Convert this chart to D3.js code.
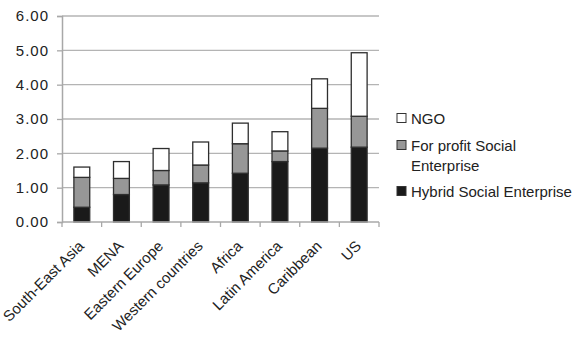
<!DOCTYPE html>
<html>
<head>
<meta charset="utf-8">
<script src="https://cdn.jsdelivr.net/npm/d3@7"></script>
<style>
  html, body { margin: 0; padding: 0; background: #fff; }
  svg text { font-family: "Liberation Sans", Arial, sans-serif; fill: #222; }
</style>
</head>
<body>
<svg id="chart" width="573" height="339"></svg>
<script>
// Regions and their stacked values by organisation type
const regions = ["South-East Asia", "MENA", "Eastern Europe", "Western countries", "Africa", "Latin America", "Caribbean", "US"];
const hybrid = [0.43, 0.80, 1.08, 1.14, 1.42, 1.76, 2.15, 2.18];
const forProfit = [0.87, 0.47, 0.42, 0.52, 0.86, 0.31, 1.16, 0.90];
const ngo = [0.30, 0.49, 0.64, 0.67, 0.60, 0.56, 0.86, 1.85];
const yTicks = [0, 1, 2, 3, 4, 5, 6];

const seriesNames = ["Hybrid Social Enterprise", "For profit Social Enterprise", "NGO"];
const seriesValues = [hybrid, forProfit, ngo];
const seriesColors = ["#1a1a1a", "#979797", "#ffffff"];

const svg = d3.select("#chart");
const margin = { left: 62, right: 194, top: 16, bottom: 117 };
const W = 573, H = 339;

const x = d3.scaleBand().domain(regions).range([margin.left, W - margin.right]).paddingInner(0.6).paddingOuter(0.3);
const xb = d3.scaleBand().domain(regions).range([margin.left, W - margin.right]);
const y = d3.scaleLinear().domain([0, 6]).range([H - margin.bottom, margin.top]);

// Gridlines
svg.append("g").selectAll("line").data(yTicks.filter(d => d > 0)).join("line")
  .attr("x1", margin.left).attr("x2", W - margin.right)
  .attr("y1", d => y(d)).attr("y2", d => y(d))
  .attr("stroke", "#b4b4b4").attr("stroke-width", 1.3);

// Stacked bars
const rows = regions.map((r, i) => {
  const o = { region: r };
  seriesNames.forEach((s, k) => o[s] = seriesValues[k][i]);
  return o;
});
const stack = d3.stack().keys(seriesNames)(rows);
svg.append("g").selectAll("g").data(stack).join("g")
  .attr("fill", (d, k) => seriesColors[k])
  .selectAll("rect").data(d => d).join("rect")
  .attr("x", d => x(d.data.region))
  .attr("width", x.bandwidth())
  .attr("y", d => y(d[1]))
  .attr("height", d => y(d[0]) - y(d[1]))
  .attr("stroke", "#2e2e2e").attr("stroke-width", 1.3);

// Y axis
const yAxis = svg.append("g").attr("transform", `translate(${margin.left},0)`)
  .call(d3.axisLeft(y).tickValues(yTicks).tickFormat(d3.format(".2f")).tickSize(5).tickPadding(8));
yAxis.select(".domain").attr("stroke", "#a8a8a8").attr("stroke-width", 1.5);
yAxis.selectAll(".tick line").attr("stroke", "#a8a8a8").attr("stroke-width", 1.3);
yAxis.selectAll("text").attr("font-size", 15).attr("letter-spacing", 1).attr("fill", "#222")
  .style("font-family", "'Liberation Sans', Arial, sans-serif");

// X axis: boundary ticks between categories
const xAxisG = svg.append("g");
xAxisG.append("line").attr("x1", margin.left).attr("x2", W - margin.right)
  .attr("y1", y(0)).attr("y2", y(0)).attr("stroke", "#a8a8a8").attr("stroke-width", 1.5);
const bounds = regions.map(r => xb(r)).concat([W - margin.right]);
xAxisG.selectAll("line.tk").data(bounds).join("line").attr("class", "tk")
  .attr("x1", d => d).attr("x2", d => d)
  .attr("y1", y(0)).attr("y2", y(0) + 5)
  .attr("stroke", "#a8a8a8").attr("stroke-width", 1.3);

// Rotated category labels
svg.append("g").selectAll("text").data(regions).join("text")
  .attr("transform", d => `translate(${xb(d) + xb.bandwidth() / 2 + 3},${y(0) + 25}) rotate(-45)`)
  .attr("text-anchor", "end")
  .attr("font-size", 15)
  .text(d => d);

// Legend
const legend = [
  { name: "NGO", lines: ["NGO"], color: seriesColors[2], y: 118 },
  { name: "For profit Social Enterprise", lines: ["For profit Social", "Enterprise"], color: seriesColors[1], y: 145 },
  { name: "Hybrid Social Enterprise", lines: ["Hybrid Social Enterprise"], color: seriesColors[0], y: 191 }
];
const lg = svg.append("g").selectAll("g").data(legend).join("g")
  .attr("transform", d => `translate(397,${d.y})`);
lg.append("rect").attr("x", 0).attr("y", -4.5).attr("width", 9).attr("height", 9)
  .attr("fill", d => d.color).attr("stroke", "#333").attr("stroke-width", 1);
lg.each(function(d) {
  const t = d3.select(this).append("text").attr("x", 14).attr("y", 5.5).attr("font-size", 15);
  d.lines.forEach((l, i) => t.append("tspan").attr("x", 14).attr("dy", i === 0 ? 0 : 20.5).text(l));
});
</script>
</body>
</html>
